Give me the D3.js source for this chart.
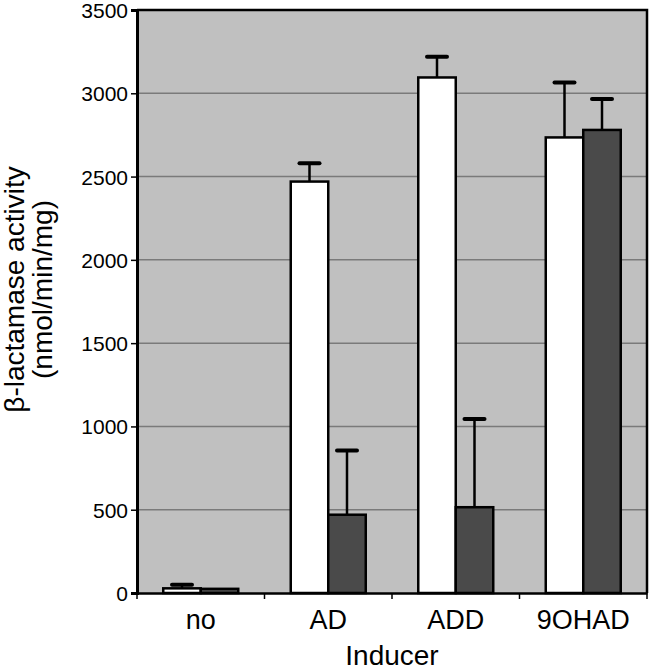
<!DOCTYPE html>
<html>
<head>
<meta charset="utf-8">
<script src="https://cdn.jsdelivr.net/npm/d3@7"></script>
<style>
  body { margin: 0; background: #fff; }
  svg text { font-family: "Liberation Sans", Arial, sans-serif; fill: #000; }
  .axis path, .axis line { stroke: #000; }
</style>
</head>
<body>
<div class="chart"></div>
<script>
// data
var categories = ["no", "AD", "ADD", "9OHAD"];
var series = ["open", "filled"];
var openValues = [28, 2470, 3095, 2735];
var openErrors = [22, 110, 125, 330];
var filledValues = [25, 470, 515, 2780];
var filledErrors = [0, 385, 530, 185];
var yTicks = [0, 500, 1000, 1500, 2000, 2500, 3000, 3500];

// dimensions
var margin = {top: 10, right: 3, bottom: 77, left: 137};
var width = 650 - margin.left - margin.right;
var height = 670 - margin.top - margin.bottom;

var colors = {open: "#ffffff", filled: "#4a4a4a"};

var rows = categories.map(function(c, i) {
  return {
    cat: c,
    bars: [
      {key: "open", value: openValues[i], err: openErrors[i]},
      {key: "filled", value: filledValues[i], err: filledErrors[i]}
    ]
  };
});

// scales
var x0 = d3.scaleBand().domain(categories).range([0, width]).padding(0);
var x1 = d3.scaleBand().domain(series).range([0, x0.bandwidth()])
  .paddingInner(0).paddingOuter(0.7);
var y = d3.scaleLinear().domain([0, 3500]).range([height, 0]);

var svg = d3.select(".chart").append("svg")
  .attr("width", 650)
  .attr("height", 670);

var chart = svg.append("g")
  .attr("transform", "translate(" + margin.left + "," + margin.top + ")");

// plot background
chart.append("rect")
  .attr("width", width)
  .attr("height", height)
  .attr("fill", "#c0c0c0");

// gridlines
chart.append("g")
  .selectAll("line")
  .data(yTicks.slice(1, -1))
  .enter().append("line")
  .attr("x1", 0)
  .attr("x2", width)
  .attr("y1", function(d) { return y(d); })
  .attr("y2", function(d) { return y(d); })
  .attr("stroke", "#7a7a7a")
  .attr("stroke-width", 1.5);

// frame (top and right)
chart.append("path")
  .attr("d", "M0,0H" + width + "V" + height)
  .attr("fill", "none")
  .attr("stroke", "#000")
  .attr("stroke-width", 2.5);

// error bars
var groups = chart.selectAll(".group")
  .data(rows)
  .enter().append("g")
  .attr("class", "group")
  .attr("transform", function(d) { return "translate(" + x0(d.cat) + ",0)"; });

var errs = groups.selectAll(".err")
  .data(function(d) { return d.bars.filter(function(b) { return b.err > 0; }); })
  .enter().append("g")
  .attr("class", "err");

errs.append("line")
  .attr("x1", function(d) { return x1(d.key) + x1.bandwidth() / 2; })
  .attr("x2", function(d) { return x1(d.key) + x1.bandwidth() / 2; })
  .attr("y1", function(d) { return y(d.value); })
  .attr("y2", function(d) { return y(d.value + d.err); })
  .attr("stroke", "#000")
  .attr("stroke-width", 2.5);

errs.append("line")
  .attr("x1", function(d) { return x1(d.key) + x1.bandwidth() / 2 - 10; })
  .attr("x2", function(d) { return x1(d.key) + x1.bandwidth() / 2 + 10; })
  .attr("y1", function(d) { return y(d.value + d.err); })
  .attr("y2", function(d) { return y(d.value + d.err); })
  .attr("stroke", "#000")
  .attr("stroke-width", 4)
  .attr("stroke-linecap", "round");

// bars
groups.selectAll(".bar")
  .data(function(d) { return d.bars; })
  .enter().append("rect")
  .attr("class", "bar")
  .attr("x", function(d) { return x1(d.key); })
  .attr("width", x1.bandwidth())
  .attr("y", function(d) { return y(d.value); })
  .attr("height", function(d) { return height - y(d.value); })
  .attr("fill", function(d) { return colors[d.key]; })
  .attr("stroke", "#000")
  .attr("stroke-width", 2.5);

// axes
var yAxis = chart.append("g")
  .attr("class", "axis")
  .call(d3.axisLeft(y).tickValues(yTicks).tickFormat(d3.format("d"))
    .tickSize(6).tickPadding(3));
yAxis.select(".domain").attr("stroke-width", 3);
yAxis.selectAll(".tick line").attr("stroke-width", 1.5);
yAxis.selectAll("text").attr("font-size", "21px").attr("dy", "0.36em");

var xAxis = chart.append("g")
  .attr("class", "axis")
  .attr("transform", "translate(0," + height + ")")
  .call(d3.axisBottom(x0).tickSize(0).tickPadding(17));
xAxis.select(".domain").attr("stroke-width", 2.5);
xAxis.selectAll("text").attr("font-size", "27px");

// category boundary ticks
xAxis.selectAll(".sep")
  .data(categories.concat([null]))
  .enter().append("line")
  .attr("class", "sep")
  .attr("x1", function(d) { return d === null ? width : x0(d); })
  .attr("x2", function(d) { return d === null ? width : x0(d); })
  .attr("y1", 0)
  .attr("y2", 6)
  .attr("stroke", "#000")
  .attr("stroke-width", 1.5);

// x label
chart.append("text")
  .attr("x", width / 2)
  .attr("y", height + 72)
  .attr("text-anchor", "middle")
  .attr("font-size", "28px")
  .text("Inducer");

// y label
var yLabel = chart.append("text")
  .attr("transform", "rotate(-90)")
  .attr("x", -(height / 2 - 12))
  .attr("y", -margin.left + 24)
  .attr("text-anchor", "middle")
  .attr("font-size", "28px");
yLabel.append("tspan").text("\u03b2-lactamase activity");
yLabel.append("tspan")
  .attr("x", -(height / 2 - 12))
  .attr("dy", "1.0em")
  .text("(nmol/min/mg)");
</script>
</body>
</html>
